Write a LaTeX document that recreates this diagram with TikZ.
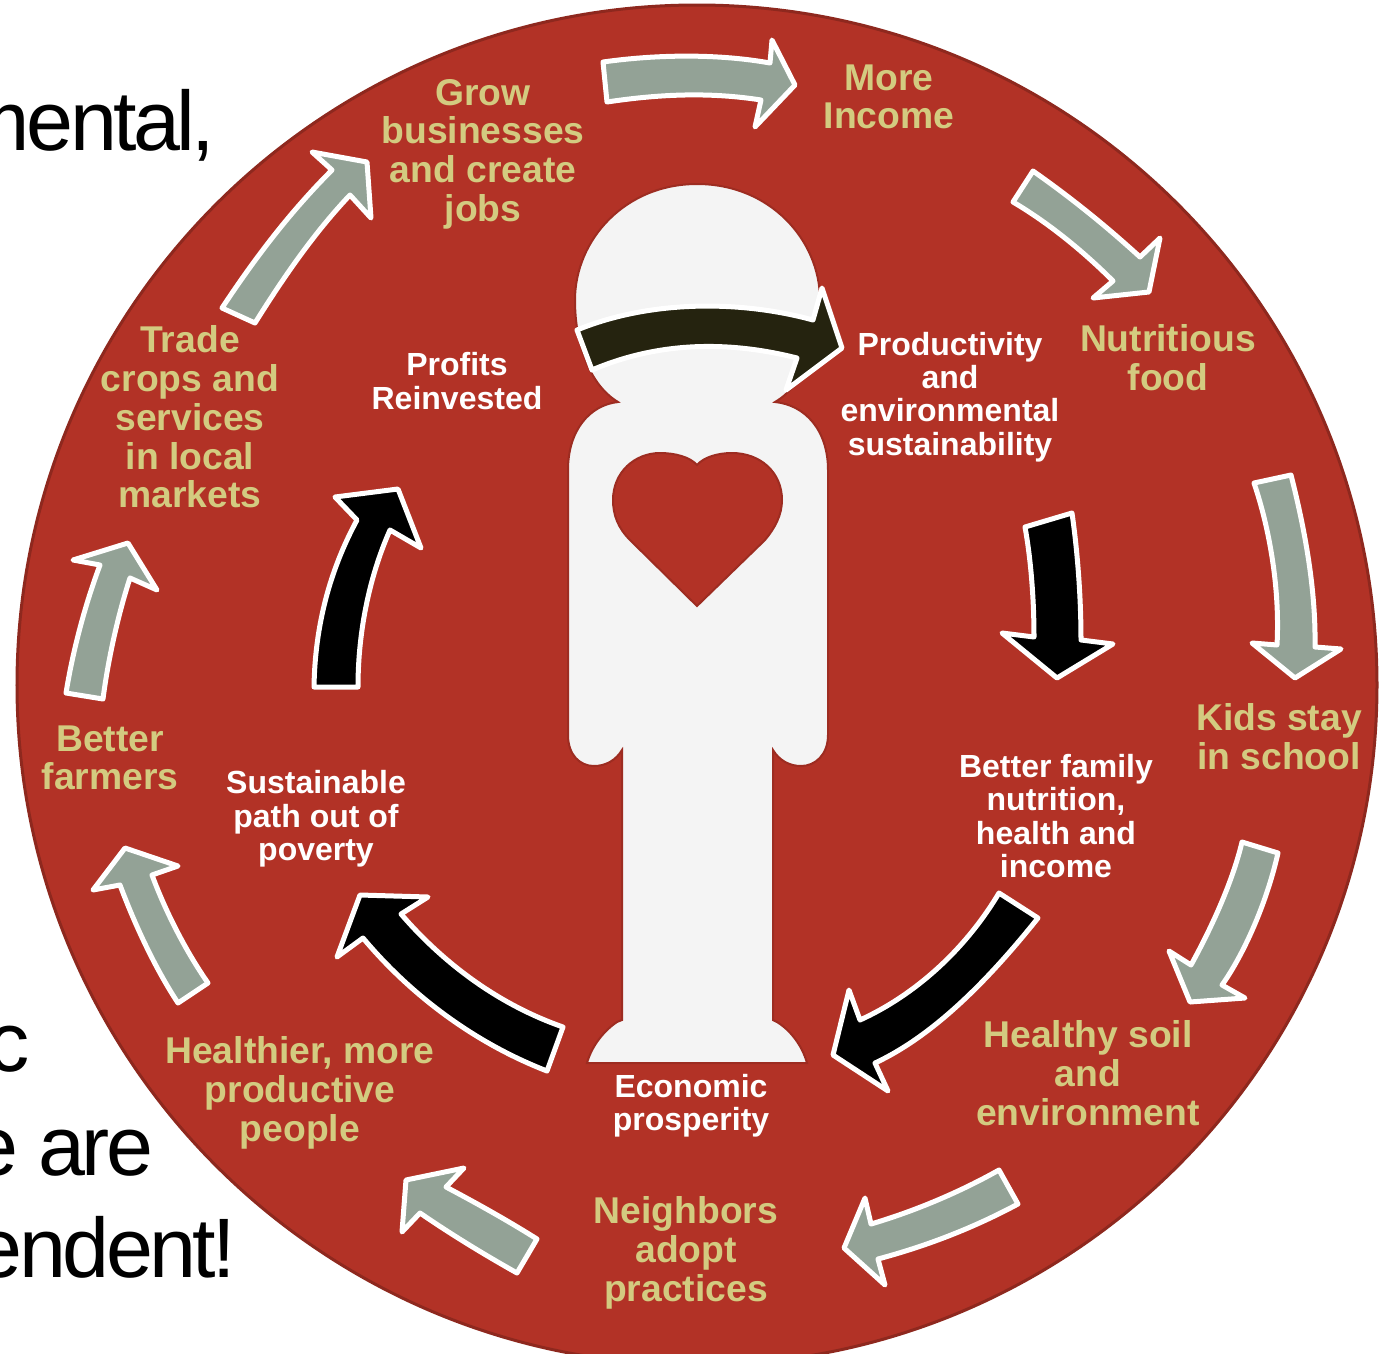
\documentclass[tikz,border=0pt]{standalone}
\usepackage{fontspec}
\setmainfont{Liberation Sans}
\newfontfamily\bigfont[LetterSpace=-4.2]{Liberation Sans}
\definecolor{discred}{HTML}{B23226}
\definecolor{labeltan}{HTML}{D3CB80}
\definecolor{arrowgrey}{HTML}{93A296}
\definecolor{figwhite}{HTML}{F4F4F4}
\definecolor{olivedark}{HTML}{25230F}
\tikzset{
	outer/.style={text=labeltan,font=\fontsize{10.6}{11}\selectfont\bfseries,align=center},
	inner/.style={text=white,font=\fontsize{9.1}{9.5}\selectfont\bfseries,align=center},
	bigtext/.style={text=black,font=\fontsize{24}{24}\bigfont,anchor=base east,inner sep=0pt},
	greyarrow/.style={fill=arrowgrey,draw=white,line width=0.5mm,line join=round},
	blackarrow/.style={fill=black,draw=white,line width=0.5mm,line join=round},
	figpart/.style={draw=discred!88!black,line width=0.2mm}
}
\begin{document}
\begin{tikzpicture}[x=0.01cm,y=-0.01cm]
	\useasboundingbox (0,0) rectangle (1384,1354);
	\begin{scope}
	\clip (0,0) rectangle (1384,1354);

% fondo
	\fill[white] (0,0) rectangle (1384,1354);
	\node[bigtext] (txtone) at (216,150) {mental,};
	\node[bigtext] (txttwo) at (30,1071) {c};
	\node[bigtext] (txtthree) at (154,1175) {e are};
	\node[bigtext] (txtfour) at (237,1277) {endent!};
	\fill[discred,draw=discred!80!black,line width=0.3mm] (697,685) circle (680);

% figura
	\filldraw[figpart,fill=figwhite] (697,184) .. controls (625,184) and (575,240) .. (575,300)
		.. controls (575,345) and (590,385) .. (618,402)
		.. controls (590,405) and (568,430) .. (568,470)
		-- (568,735) .. controls (568,755) and (580,766) .. (594,766)
		.. controls (606,766) and (616,760) .. (622,750)
		-- (622,1020) -- (617,1022) .. controls (605,1030) and (592,1045) .. (587,1063)
		-- (807,1063) .. controls (802,1045) and (790,1030) .. (777,1022)
		-- (773,1020) -- (773,750) .. controls (779,760) and (789,766) .. (801,766)
		.. controls (815,766) and (828,755) .. (828,735)
		-- (828,470) .. controls (828,430) and (805,405) .. (775,402)
		.. controls (804,385) and (820,345) .. (820,300)
		.. controls (820,240) and (770,184) .. (697,184) -- cycle;
	\filldraw[figpart,fill=discred] (697,606) -- (630,540)
		.. controls (618,528) and (613,515) .. (613,500)
		.. controls (613,472) and (635,453) .. (660,453)
		.. controls (675,453) and (690,457) .. (697,465)
		.. controls (704,457) and (718,453) .. (732,453)
		.. controls (760,453) and (782,472) .. (782,500)
		.. controls (782,515) and (775,528) .. (765,540) -- cycle;

% flechas exteriores
	\draw[greyarrow] (603,62) .. controls (660,54) and (720,54) .. (770,63) -- (772,40) -- (795,85) -- (755,127) -- (761,100) .. controls (710,92) and (660,94) .. (607,102) -- cycle;
	\draw[greyarrow] (1033,171) .. controls (1070,197) and (1105,225) .. (1140,257) -- (1160,238) -- (1149,292) -- (1093,298) -- (1113,281) .. controls (1082,250) and (1047,222) .. (1013,202) -- cycle;
	\draw[greyarrow] (1254,483) .. controls (1270,530) and (1280,590) .. (1277,645) -- (1252,643) -- (1295,678) -- (1341,649) -- (1315,647) .. controls (1316,590) and (1305,530) .. (1291,475) -- cycle;
	\draw[greyarrow] (1242,842) .. controls (1233,880) and (1213,925) .. (1191,965) -- (1169,951) -- (1190,1002) -- (1245,998) -- (1222,985) .. controls (1240,960) and (1265,910) .. (1278,853) -- cycle;
	\draw[greyarrow] (999,1170) .. controls (960,1192) and (915,1211) .. (871,1224) -- (865,1198) -- (844,1248) -- (885,1285) -- (878,1259) .. controls (930,1245) and (975,1227) .. (1018,1204) -- cycle;
	\draw[greyarrow] (537,1239) .. controls (510,1222) and (480,1205) .. (446,1187) -- (464,1168) -- (406,1180) -- (402,1232) -- (420,1213) .. controls (452,1235) and (485,1255) .. (517,1273) -- cycle;
	\draw[greyarrow] (208,983) .. controls (185,950) and (165,910) .. (152,875) -- (178,866) -- (125,848) -- (93,890) -- (120,885) .. controls (135,925) and (155,968) .. (178,1003) -- cycle;
	\draw[greyarrow] (103,699) .. controls (108,660) and (118,615) .. (130,578) -- (157,590) -- (128,543) -- (73,560) -- (100,565) .. controls (85,605) and (73,650) .. (66,693) -- cycle;
	\draw[greyarrow] (255,323) .. controls (285,275) and (315,232) .. (350,195) -- (371,218) -- (367,162) -- (312,152) -- (332,170) .. controls (290,212) and (255,258) .. (222,308) -- cycle;

% flechas interiores
	\draw[blackarrow,fill=olivedark] (577,330) .. controls (650,300) and (740,300) .. (813,320) -- (822,288) -- (842,348) -- (786,390) -- (797,358) .. controls (730,341) and (660,341) .. (592,370) -- cycle;
	\draw[blackarrow] (1025,527) .. controls (1031,560) and (1034,600) .. (1034,637) -- (1002,633) -- (1057,678) -- (1113,644) -- (1081,640) .. controls (1081,600) and (1078,555) .. (1072,513) -- cycle;
	\draw[blackarrow] (999,893) .. controls (965,950) and (915,995) .. (860,1020) -- (849,990) -- (833,1055) -- (888,1091) -- (875,1063) .. controls (935,1035) and (990,978) .. (1038,918) -- cycle;
	\draw[blackarrow] (563,1027) .. controls (500,1005) and (445,965) .. (401,914) -- (428,897) -- (360,895) -- (337,957) -- (363,938) .. controls (415,1000) and (480,1045) .. (547,1071) -- cycle;
	\draw[blackarrow] (314,687) .. controls (315,625) and (330,570) .. (357,520) -- (335,497) -- (398,489) -- (421,548) -- (390,530) .. controls (370,575) and (358,630) .. (358,687) -- cycle;

% textos exteriores
	\node[outer] (grow) at (483,154) {Grow\\businesses\\and create\\jobs};
	\node[outer] (income) at (889,97) {More\\Income};
	\node[outer] (food) at (1168,358) {Nutritious\\food};
	\node[outer] (school) at (1279,737) {Kids stay\\in school};
	\node[outer] (soil) at (1088,1073) {Healthy soil\\and\\environment};
	\node[outer] (neighbors) at (686,1253) {Neighbors\\adopt\\practices};
	\node[outer] (healthier) at (300,1093) {Healthier, more\\productive\\people};
	\node[outer] (farmers) at (110,758) {Better\\farmers};
	\node[outer] (trade) at (190,417) {Trade\\crops and\\services\\in local\\markets};

% textos interiores
	\node[inner] (profits) at (457,381) {Profits\\Reinvested};
	\node[inner] (productivity) at (950,397) {Productivity\\and\\environmental\\sustainability};
	\node[inner] (family) at (1056,816) {Better family\\nutrition,\\health and\\income};
	\node[inner] (prosperity) at (691,1106) {Economic\\prosperity};
	\node[inner] (poverty) at (316,819) {Sustainable\\path out of\\poverty};
	\end{scope}
\end{tikzpicture}
\end{document}
